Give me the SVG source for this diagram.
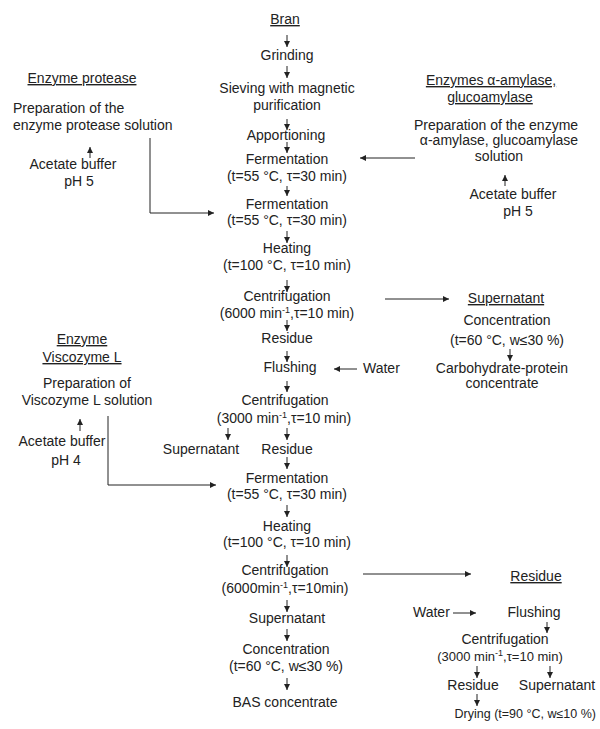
<svg xmlns="http://www.w3.org/2000/svg" width="600" height="729" viewBox="0 0 600 729">
<style>
text{font-family:"Liberation Sans",Arial,sans-serif;font-size:14px;fill:#222}
.c{text-anchor:middle}
.u{text-decoration:underline}
.s{font-size:13px}
.sup{font-size:9px}
.ln{stroke:#222;stroke-width:1;fill:none}
.ar{stroke:#222;stroke-width:1;fill:none;marker-end:url(#ah)}
</style>
<defs>
<marker id="ah" markerUnits="userSpaceOnUse" markerWidth="7" markerHeight="7" refX="6" refY="3.5" orient="auto">
<path d="M0,0.5 L6,3.5 L0,6.5 Z" fill="#222"/>
</marker>
</defs>
<rect width="600" height="729" fill="#fff"/>
<g id="connectors">
<line class="ar" x1="287" y1="35" x2="287" y2="47"/>
<line class="ar" x1="287" y1="66" x2="287" y2="78"/>
<line class="ar" x1="287" y1="119" x2="287" y2="130"/>
<line class="ar" x1="287" y1="142" x2="287" y2="153"/>
<line class="ar" x1="287" y1="186" x2="287" y2="196"/>
<line class="ar" x1="287" y1="231" x2="287" y2="243"/>
<line class="ar" x1="287" y1="280" x2="287" y2="292"/>
<line class="ar" x1="287" y1="320" x2="287" y2="331"/>
<line class="ar" x1="287" y1="351" x2="287" y2="362"/>
<line class="ar" x1="287" y1="381" x2="287" y2="392"/>
<line class="ar" x1="228" y1="428" x2="228" y2="440"/>
<line class="ar" x1="287" y1="428" x2="287" y2="440"/>
<line class="ar" x1="287" y1="457" x2="287" y2="469"/>
<line class="ar" x1="287" y1="505" x2="287" y2="517"/>
<line class="ar" x1="287" y1="555" x2="287" y2="567"/>
<line class="ar" x1="287" y1="600" x2="287" y2="612"/>
<line class="ar" x1="287" y1="629" x2="287" y2="641"/>
<line class="ar" x1="287" y1="678" x2="287" y2="690"/>
<line class="ar" x1="90" y1="158" x2="90" y2="147"/>
<path class="ar" d="M150,138 V213 H214"/>
<line class="ar" x1="415" y1="158" x2="360" y2="158"/>
<line class="ar" x1="505" y1="186" x2="505" y2="175"/>
<line class="ar" x1="385" y1="299" x2="449" y2="299"/>
<line class="ar" x1="510" y1="349" x2="510" y2="361"/>
<line class="ar" x1="357" y1="369" x2="334" y2="369"/>
<line class="ar" x1="80" y1="431" x2="80" y2="419"/>
<path class="ar" d="M108,416 V485 H216"/>
<line class="ar" x1="363" y1="574" x2="471" y2="574"/>
<line class="ar" x1="453" y1="613" x2="476" y2="613"/>
<line class="ar" x1="547" y1="622" x2="547" y2="633"/>
<line class="ar" x1="477" y1="666" x2="477" y2="678"/>
<line class="ar" x1="550" y1="666" x2="550" y2="678"/>
<line class="ar" x1="477" y1="694" x2="477" y2="706"/>
</g>
<g id="bran"><text class="c u" x="285" y="24">Bran</text></g>
<g id="grinding"><text class="c" x="287" y="60">Grinding</text></g>
<g id="sieving"><text class="c" x="287" y="93">Sieving with magnetic</text><text class="c" x="287" y="110">purification</text></g>
<g id="apportioning"><text class="c" x="286" y="140">Apportioning</text></g>
<g id="fermentation1"><text class="c" x="287" y="164">Fermentation</text><text class="c" x="287" y="181">(t=55 °C, τ=30 min)</text></g>
<g id="fermentation2"><text class="c" x="287" y="209">Fermentation</text><text class="c" x="287" y="225">(t=55 °C, τ=30 min)</text></g>
<g id="heating1"><text class="c" x="287" y="253">Heating</text><text class="c" x="287" y="270">(t=100 °C, τ=10 min)</text></g>
<g id="centrifugation1"><text class="c" x="287" y="301">Centrifugation</text><text class="c" x="287" y="318">(6000 min<tspan class="sup" dy="-5">-1</tspan><tspan dy="5">,τ=10 min)</tspan></text></g>
<g id="residue1"><text class="c" x="287" y="343">Residue</text></g>
<g id="flushing1"><text class="c" x="290" y="372">Flushing</text></g>
<g id="water1"><text x="363" y="373">Water</text></g>
<g id="centrifugation2"><text class="c" x="285" y="405">Centrifugation</text><text class="c" x="284" y="423">(3000 min<tspan class="sup" dy="-5">-1</tspan><tspan dy="5">,τ=10 min)</tspan></text></g>
<g id="supernatant2"><text class="c" x="201" y="454">Supernatant</text></g>
<g id="residue2"><text class="c" x="287" y="454">Residue</text></g>
<g id="fermentation3"><text class="c" x="287" y="483">Fermentation</text><text class="c" x="287" y="499">(t=55 °C, τ=30 min)</text></g>
<g id="heating2"><text class="c" x="287" y="531">Heating</text><text class="c" x="287" y="547">(t=100 °C, τ=10 min)</text></g>
<g id="centrifugation3"><text class="c" x="285" y="575">Centrifugation</text><text class="c" x="285" y="593">(6000min<tspan class="sup" dy="-5">-1</tspan><tspan dy="5">,τ=10min)</tspan></text></g>
<g id="supernatant3"><text class="c" x="287" y="623">Supernatant</text></g>
<g id="concentration"><text class="c" x="286" y="654">Concentration</text><text class="c" x="286" y="671">(t=60 °C, w≤30 %)</text></g>
<g id="bas"><text class="c" x="285" y="707">BAS concentrate</text></g>
<g id="protease"><text class="c u" x="82" y="83">Enzyme protease</text></g>
<g id="protease-prep"><text x="13" y="113">Preparation of the</text><text x="13" y="130">enzyme protease solution</text></g>
<g id="buffer1"><text class="c" x="73" y="169">Acetate buffer</text><text class="c" x="79" y="186">pH 5</text></g>
<g id="amylase"><text class="c u" x="491" y="85">Enzymes α-amylase,</text><text class="c u" x="490" y="102">glucoamylase</text></g>
<g id="amylase-prep"><text class="c" x="496" y="130">Preparation of the enzyme</text><text class="c" x="499" y="145">α-amylase, glucoamylase</text><text class="c" x="499" y="161">solution</text></g>
<g id="buffer2"><text class="c" x="513" y="199">Acetate buffer</text><text class="c" x="518" y="216">pH 5</text></g>
<g id="supernatant1"><text class="c u" x="506" y="303">Supernatant</text></g>
<g id="concentration1"><text class="c" x="507" y="325">Concentration</text><text class="c" x="507" y="345">(t=60 °C, w≤30 %)</text></g>
<g id="chp"><text class="c" x="502" y="373">Carbohydrate-protein</text><text class="c" x="502" y="388">concentrate</text></g>
<g id="viscozyme"><text class="c u" x="82" y="344">Enzyme</text><text class="c u" x="82" y="362">Viscozyme L</text></g>
<g id="viscozyme-prep"><text class="c" x="87" y="388">Preparation of</text><text class="c" x="87" y="405">Viscozyme L solution</text></g>
<g id="buffer3"><text class="c" x="62" y="446">Acetate buffer</text><text class="c" x="66" y="465">pH 4</text></g>
<g id="residue3"><text class="c u" x="536" y="581">Residue</text></g>
<g id="water2"><text x="413" y="617">Water</text></g>
<g id="flushing2"><text class="c" x="534" y="617">Flushing</text></g>
<g id="centrifugation4"><text class="c" x="505" y="644">Centrifugation</text><text class="c s" x="500" y="661">(3000 min<tspan class="sup" dy="-5">-1</tspan><tspan dy="5">,τ=10 min)</tspan></text></g>
<g id="residue4"><text class="c" x="473" y="690">Residue</text></g>
<g id="supernatant4"><text class="c" x="557" y="690">Supernatant</text></g>
<g id="drying"><text x="596" y="718" style="font-size:12.5px;text-anchor:end">Drying (t=90 °C, w≤10 %)</text></g>
</svg>
